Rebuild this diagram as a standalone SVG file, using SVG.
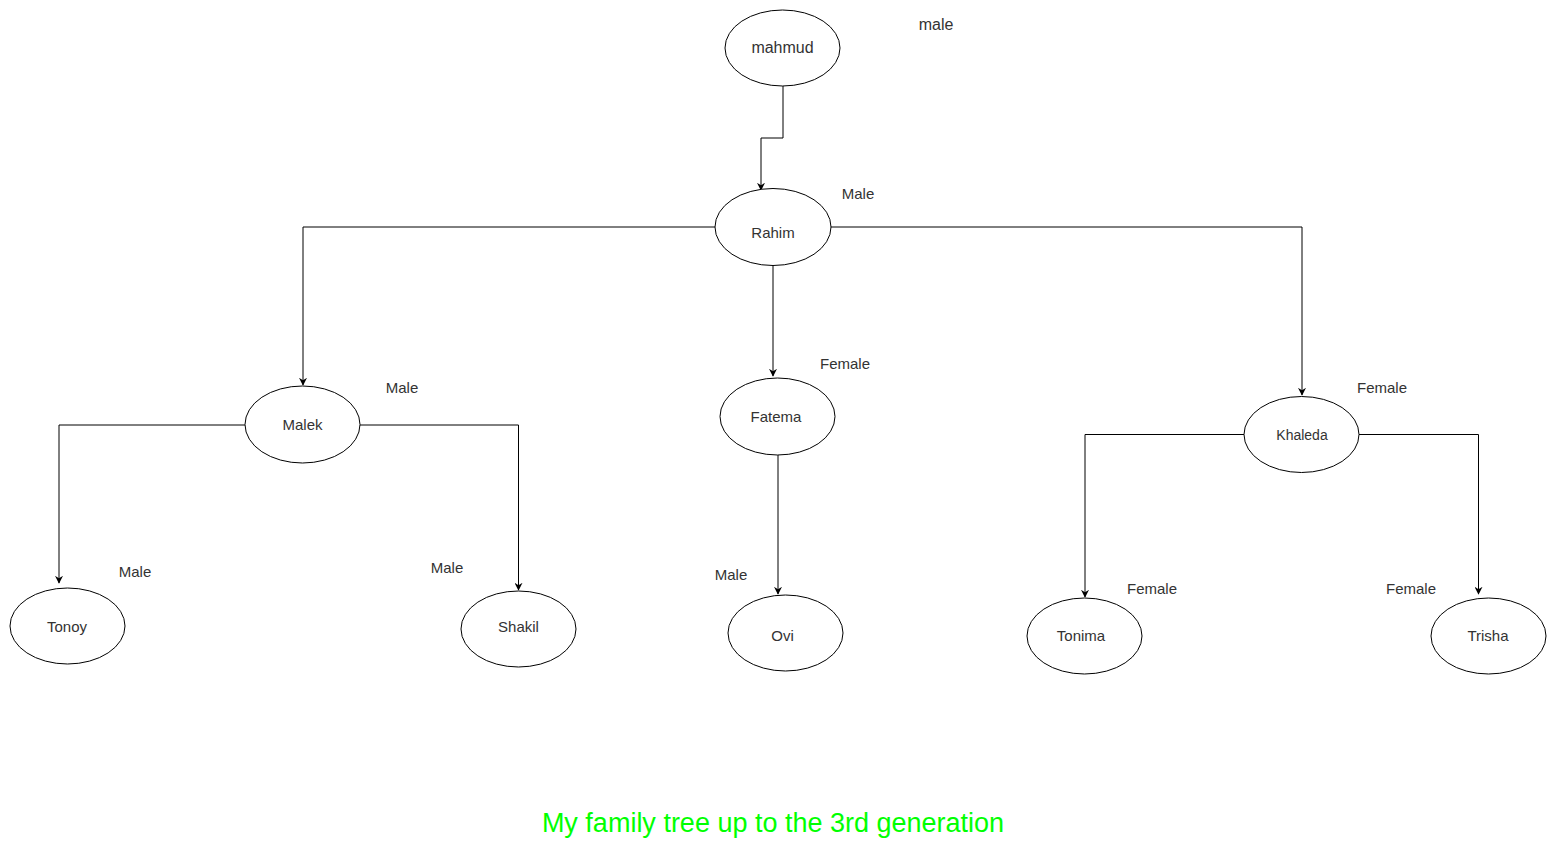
<svg xmlns="http://www.w3.org/2000/svg" width="1558" height="867" viewBox="0 0 1558 867">
<defs>
<marker id="arr" viewBox="0 0 10 10" refX="9" refY="5" markerWidth="8" markerHeight="8" markerUnits="userSpaceOnUse" orient="auto">
<path d="M0,0 L10,5 L0,10 L3,5 Z" fill="#000"/>
</marker>
<style>
.n{fill:#fff;stroke:#000;stroke-width:1}
.t{font-family:"Liberation Sans",Arial,sans-serif;font-size:15px;fill:#333;text-anchor:middle;dominant-baseline:central}
.lbl{font-family:"Liberation Sans",Arial,sans-serif;font-size:15px;fill:#333;text-anchor:middle;dominant-baseline:central}
.c{fill:none;stroke:#000;stroke-width:1;marker-end:url(#arr)}
</style>
</defs>
<rect width="1558" height="867" fill="#fff"/>
<g id="connectors">
<path class="c" d="M783,86 V138 H761 V190"/>
<path class="c" d="M715,227 H303 V385"/>
<path class="c" d="M773,265 V376"/>
<path class="c" d="M831,227 H1302 V395"/>
<path class="c" d="M245,425 H59 V583"/>
<path class="c" d="M360,425 H518.5 V590"/>
<path class="c" d="M778,455 V594"/>
<path class="c" d="M1244,434.5 H1085 V597"/>
<path class="c" d="M1359,434.5 H1478.5 V594"/>
</g>
<g id="mahmud"><ellipse class="n" cx="782.5" cy="48" rx="57.5" ry="38"/><text class="t" x="782.5" y="47" style="font-size:16px">mahmud</text></g>
<g id="rahim"><ellipse class="n" cx="773" cy="227" rx="58" ry="38.5"/><text class="t" x="773" y="232">Rahim</text></g>
<g id="malek"><ellipse class="n" cx="302.5" cy="424.5" rx="57.5" ry="38.5"/><text class="t" x="302.5" y="424.5">Malek</text></g>
<g id="fatema"><ellipse class="n" cx="777.5" cy="416.5" rx="57.5" ry="38.5"/><text class="t" x="776" y="416.5">Fatema</text></g>
<g id="khaleda"><ellipse class="n" cx="1301.5" cy="434.5" rx="57.5" ry="38"/><text class="t" x="1302" y="434.5" style="font-size:14px">Khaleda</text></g>
<g id="tonoy"><ellipse class="n" cx="67.5" cy="626" rx="57.5" ry="38"/><text class="t" x="67" y="626.5">Tonoy</text></g>
<g id="shakil"><ellipse class="n" cx="518.5" cy="629" rx="57.5" ry="38"/><text class="t" x="518.5" y="626.5">Shakil</text></g>
<g id="ovi"><ellipse class="n" cx="785.5" cy="633" rx="57.5" ry="38"/><text class="t" x="782.5" y="635.5">Ovi</text></g>
<g id="tonima"><ellipse class="n" cx="1084.5" cy="636" rx="57.5" ry="38"/><text class="t" x="1081" y="635.5">Tonima</text></g>
<g id="trisha"><ellipse class="n" cx="1488.5" cy="636" rx="57.5" ry="38"/><text class="t" x="1488" y="635.5">Trisha</text></g>
<g id="labels">
<text class="lbl" x="936" y="24" style="font-size:16px">male</text>
<text class="lbl" x="858" y="193">Male</text>
<text class="lbl" x="402" y="387">Male</text>
<text class="lbl" x="845" y="363">Female</text>
<text class="lbl" x="1382" y="387">Female</text>
<text class="lbl" x="135" y="571">Male</text>
<text class="lbl" x="447" y="567">Male</text>
<text class="lbl" x="731" y="574">Male</text>
<text class="lbl" x="1152" y="588">Female</text>
<text class="lbl" x="1411" y="588">Female</text>
</g>
<text x="773" y="832" style="font-family:'Liberation Sans',Arial,sans-serif;font-size:27px;fill:#00ff00;text-anchor:middle">My family tree up to the 3rd generation</text>
</svg>
